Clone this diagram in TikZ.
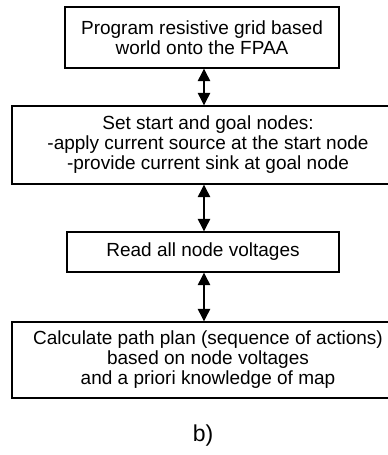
\documentclass[tikz,border=0pt]{standalone}
\usepackage{fontspec}
\setmainfont{Liberation Sans}
\usetikzlibrary{arrows.meta}

\tikzset{
    stepbox/.style={draw, line width=1.4pt, align=center, inner sep=0pt,
        font=\fontsize{19}{20}\selectfont},
    link/.style={line width=1.2pt, {Triangle[width=12.5pt,length=12.5pt]}-{Triangle[width=12.5pt,length=12.5pt]}}
}

\begin{document}
\begin{tikzpicture}[x=1pt,y=-1pt]
    \useasboundingbox (0,0) rectangle (388,455);% page frame
    
    \node[stepbox, minimum width=274pt, minimum height=61pt] (program) at (202,37.5)
    {Program resistive grid based\\world onto the FPAA};
    \node[stepbox, minimum width=392pt, minimum height=78pt] (setnodes) at (208,145)
    {Set start and goal nodes:\\-apply current source at the start node\\-provide current sink at goal node};
    \node[stepbox, minimum width=272pt, minimum height=40pt] (read) at (203,252)
    {Read all node voltages};
    \node[stepbox, minimum width=392pt, minimum height=76pt] (plan) at (208,360)
    {Calculate path plan (sequence of actions)\\based on node voltages\\and a priori knowledge of map};
    
    \coordinate (ax) at (204,0);% arrow column
    \draw[link] (program.south -| ax) -- (setnodes.north -| ax);
    \draw[link] (setnodes.south -| ax) -- (read.north -| ax);
    \draw[link] (read.south -| ax) -- (plan.north -| ax);
    
    \node[font=\fontsize{23}{27}\selectfont] (caption) at (203,436) {b)};% panel label
    
\end{tikzpicture}
\end{document}
